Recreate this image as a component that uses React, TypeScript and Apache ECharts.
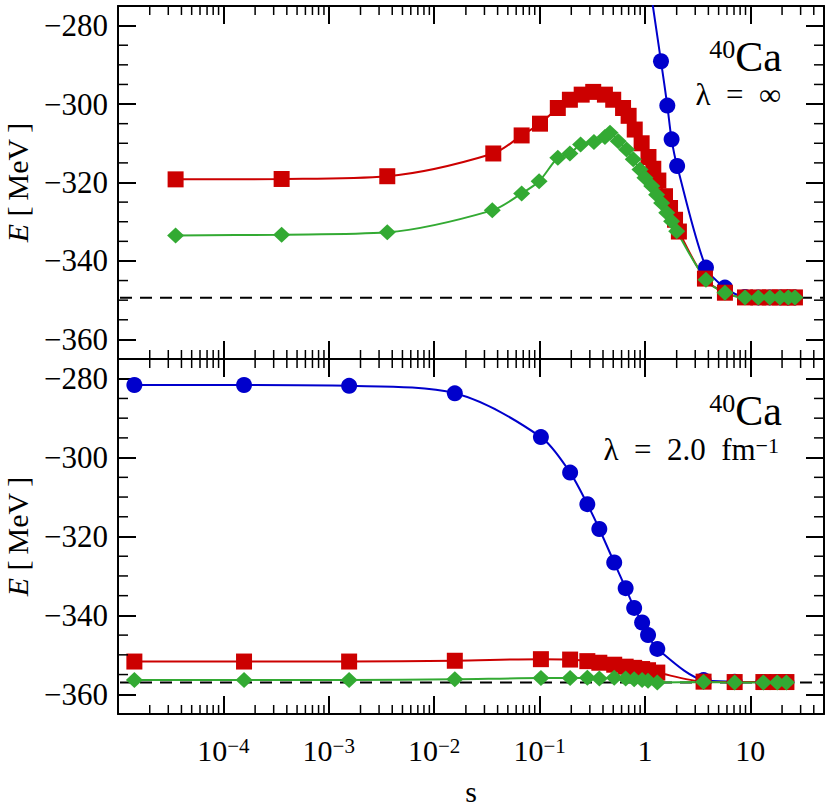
import React, { useEffect, useRef } from "react";
import * as echarts from "echarts";

// ---------- data ----------
const X_MIN = 1e-5;
const X_MAX = 50;
const Y_MIN = -365;
const Y_MAX = -275;

// top panel (lambda = infinity)
const TOP_BLUE_S = [1.18, 1.42, 1.63, 1.79, 2.02, 3.79, 5.74, 8.9, 11.9, 15.3, 19.1, 22.9, 26.5];
const TOP_BLUE_E = [-274.4, -289.1, -300.4, -309.0, -315.8, -341.7, -346.8, -349.2, -349.3, -349.3, -349.3, -349.3, -349.3];

const TOP_RED_S = [3.52e-5, 3.57e-4, 3.59e-3, 0.0364, 0.0676, 0.101, 0.149, 0.194, 0.251, 0.323, 0.417, 0.5, 0.62, 0.7, 0.8, 0.93, 1.08, 1.2, 1.34, 1.55, 1.73, 1.93, 2.1, 3.71, 5.74, 8.9, 11.9, 15.3, 19.1, 22.9, 26.5];
const TOP_RED_E = [-319.2, -319.1, -318.4, -312.6, -308.0, -305.0, -301.0, -298.9, -297.6, -296.9, -297.6, -298.9, -301.0, -303.0, -306.5, -310.0, -313.5, -316.5, -319.5, -323.5, -326.5, -329.5, -332.5, -344.5, -348.1, -349.3, -349.3, -349.3, -349.3, -349.3, -349.3];

const TOP_GREEN_S = [3.52e-5, 3.57e-4, 3.59e-3, 0.0356, 0.0676, 0.099, 0.149, 0.194, 0.245, 0.328, 0.417, 0.466, 0.558, 0.67, 0.774, 0.897, 1.0, 1.16, 1.29, 1.44, 1.61, 1.79, 2.0, 3.79, 5.74, 8.9, 11.9, 15.3, 19.1, 22.9, 26.5];
const TOP_GREEN_E = [-333.5, -333.3, -332.7, -327.1, -322.8, -319.7, -313.7, -312.6, -310.3, -309.7, -308.4, -307.3, -309.5, -311.6, -314.1, -316.7, -318.8, -320.9, -323.1, -325.2, -327.7, -329.9, -332.4, -344.8, -348.1, -349.3, -349.3, -349.3, -349.3, -349.3, -349.3];

const TOP_EXACT = -349.4;

// bottom panel (lambda = 2.0 fm^-1)
const BOT_S = [1.43e-5, 1.57e-4, 1.56e-3, 0.0157, 0.103, 0.195, 0.284, 0.369, 0.511, 0.656, 0.79, 0.94, 1.07, 1.31, 3.6, 7.1, 13.3, 18, 22];
const BOT_BLUE_E = [-281.6, -281.6, -281.8, -283.7, -294.8, -303.8, -311.8, -318.1, -326.6, -333.1, -338.1, -341.8, -345.0, -348.5, -356.4, -356.8, -356.9, -356.9, -356.9];
const BOT_RED_E = [-351.7, -351.7, -351.7, -351.5, -351.1, -351.2, -351.6, -352.0, -352.5, -353.0, -353.3, -353.6, -353.9, -354.5, -356.8, -356.9, -356.9, -356.9, -356.9];
const BOT_GREEN_E = [-356.4, -356.4, -356.4, -356.2, -355.9, -355.9, -355.8, -356.0, -355.8, -356.0, -356.2, -356.4, -356.6, -357.0, -356.9, -357.0, -357.0, -357.0, -357.0];

const BOT_EXACT = -357.0;

// ticks
const X_MINOR: number[] = [];
for (let k = -5; k <= 1; k++) {
  for (let m = 2; m <= 9; m++) {
    const v = m * Math.pow(10, k);
    if (v < X_MAX) X_MINOR.push(v);
  }
}
const Y_MINOR: number[] = [];
for (let v = -360; v < Y_MAX; v += 5) {
  if (v % 20 !== 0) Y_MINOR.push(v);
}

// ---------- style ----------
const FONT = "'Liberation Serif', serif";
const RED = "#cc0000";
const GREEN = "#33aa33";
const BLUE = "#0000cc";

const zip = (s: number[], e: number[]) => s.map((v, i) => [v, e[i]]);

const yLabel = (v: number) => (v < 0 ? "\u2212" + Math.abs(v) : String(v));
const xLabel = (v: number) => {
  const e = Math.log10(v);
  const r = Math.round(e);
  if (Math.abs(e - r) > 1e-6 || r <= -5) return "";
  if (r === 0) return "{b|1}";
  if (r === 1) return "{b|10}";
  return `{b|10}{sup|\u2212${-r}}`;
};

function App() {
  const ref = useRef<HTMLDivElement>(null);
  useEffect(() => {
    if (!ref.current) return;
    const chart = echarts.init(ref.current, undefined, { renderer: "svg" });

    const axisLine = { show: true, onZero: false, lineStyle: { color: "#000", width: 2 } };
    const majorTick = { show: true, inside: true, length: 18, lineStyle: { color: "#000", width: 2 } };

    const xAxis = (gridIndex: number, position: string, labels: boolean) => ({
      type: "log",
      logBase: 10,
      gridIndex,
      position,
      min: X_MIN,
      max: X_MAX,
      axisLine,
      axisTick: majorTick,
      splitLine: { show: false },
      minorTick: { show: false },
      axisLabel: labels
        ? {
            show: true,
            margin: 21,
            formatter: xLabel,
            color: "#000",
            fontFamily: FONT,
            fontSize: 30,
            rich: {
              b: { fontSize: 30, lineHeight: 30, fontFamily: FONT, color: "#000" },
              sup: { fontSize: 21, lineHeight: 12, verticalAlign: "top", fontFamily: FONT, color: "#000" },
            },
          }
        : { show: false },
      name: labels ? "{b|s}" : "",
      nameLocation: "middle",
      nameGap: 62,
      nameTextStyle: {
        fontFamily: FONT,
        fontSize: 30,
        color: "#000",
        rich: { b: { fontFamily: FONT, fontSize: 30, color: "#000" } },
      },
    });

    const yAxis = (gridIndex: number, position: string, labels: boolean) => ({
      type: "value",
      gridIndex,
      position,
      min: Y_MIN,
      max: Y_MAX,
      axisLine,
      axisTick: majorTick,
      splitLine: { show: false },
      minorTick: { show: false },
      axisLabel: labels
        ? {
            show: true,
            margin: 10,
            formatter: (v: number) => `{b|${yLabel(v)}}`,
            color: "#000",
            fontFamily: FONT,
            fontSize: 31,
            showMinLabel: false,
            showMaxLabel: false,
            rich: { b: { fontFamily: FONT, fontSize: 31, color: "#000" } },
          }
        : { show: false },
      name: labels ? "{i|E}{b| [\u2009MeV\u2009]}" : "",
      nameLocation: "middle",
      nameRotate: 90,
      nameGap: 86,
      nameTextStyle: {
        fontFamily: FONT,
        fontSize: 30,
        color: "#000",
        rich: {
          i: { fontStyle: "italic", fontFamily: FONT, fontSize: 30, color: "#000" },
          b: { fontFamily: FONT, fontSize: 30, color: "#000" },
        },
      },
    });

    const xMinorRender = (_p: any, api: any) => {
      const v = api.value(0);
      const b = api.coord([v, Y_MIN]);
      const t = api.coord([v, Y_MAX]);
      return {
        type: "group",
        children: [
          { type: "line", shape: { x1: b[0], y1: b[1], x2: b[0], y2: b[1] - 9 }, style: { stroke: "#000", lineWidth: 1.5 } },
          { type: "line", shape: { x1: t[0], y1: t[1], x2: t[0], y2: t[1] + 9 }, style: { stroke: "#000", lineWidth: 1.5 } },
        ],
      };
    };
    const yMinorRender = (_p: any, api: any) => {
      const v = api.value(1);
      const l = api.coord([X_MIN, v]);
      const r = api.coord([X_MAX, v]);
      return {
        type: "group",
        children: [
          { type: "line", shape: { x1: l[0], y1: l[1], x2: l[0] + 10, y2: l[1] }, style: { stroke: "#000", lineWidth: 1.5 } },
          { type: "line", shape: { x1: r[0], y1: r[1], x2: r[0] - 10, y2: r[1] }, style: { stroke: "#000", lineWidth: 1.5 } },
        ],
      };
    };

    const ticksFor = (xi: number, yi: number) => [
      {
        type: "custom",
        xAxisIndex: xi,
        yAxisIndex: yi,
        renderItem: xMinorRender,
        data: X_MINOR.map((v) => [v, -320]),
        silent: true,
        z: 5,
      },
      {
        type: "custom",
        xAxisIndex: xi,
        yAxisIndex: yi,
        renderItem: yMinorRender,
        data: Y_MINOR.map((v) => [1, v]),
        silent: true,
        z: 5,
      },
    ];

    const dashed = (xi: number, yi: number, val: number) => ({
      type: "line",
      xAxisIndex: xi,
      yAxisIndex: yi,
      data: [
        [X_MIN, val],
        [X_MAX, val],
      ],
      showSymbol: false,
      symbol: "none",
      lineStyle: { color: "#000", width: 2, type: [12, 8], dashOffset: -2 },
      silent: true,
      z: 1,
    });

    const lineSeries = (xi: number, yi: number, data: number[][], color: string, symbol: string, size: any) => ({
      type: "line",
      xAxisIndex: xi,
      yAxisIndex: yi,
      data,
      smooth: 0.3,
      symbol,
      symbolSize: size,
      showAllSymbol: true,
      itemStyle: { color },
      lineStyle: { color, width: 2 },
      clip: true,
      z: 2,
    });

    const caRich = {
      s: { fontSize: 26, lineHeight: 14, verticalAlign: "top", fontFamily: FONT, fill: "#000" },
      b: { fontSize: 42, lineHeight: 42, fontFamily: FONT, fill: "#000" },
    };

    const option: any = {
      animation: false,
      backgroundColor: "#fff",
      textStyle: { fontFamily: FONT },
      grid: [
        { left: 118, right: 6, top: 6, height: 353, containLabel: false, outerBoundsMode: "none" },
        { left: 118, right: 6, top: 359, height: 355, containLabel: false, outerBoundsMode: "none" },
      ],
      xAxis: [xAxis(0, "bottom", false), xAxis(0, "top", false), xAxis(1, "bottom", true), xAxis(1, "top", false)],
      yAxis: [yAxis(0, "left", true), yAxis(0, "right", false), yAxis(1, "left", true), yAxis(1, "right", false)],
      series: [
        ...ticksFor(0, 0),
        ...ticksFor(2, 2),
        dashed(0, 0, TOP_EXACT),
        dashed(2, 2, BOT_EXACT),
        lineSeries(0, 0, zip(TOP_BLUE_S, TOP_BLUE_E), BLUE, "circle", 16),
        lineSeries(0, 0, zip(TOP_RED_S, TOP_RED_E), RED, "rect", 16),
        lineSeries(0, 0, zip(TOP_GREEN_S, TOP_GREEN_E), GREEN, "diamond", [17, 16]),
        lineSeries(2, 2, zip(BOT_S, BOT_BLUE_E), BLUE, "circle", 16),
        lineSeries(2, 2, zip(BOT_S, BOT_RED_E), RED, "rect", 16),
        lineSeries(2, 2, zip(BOT_S, BOT_GREEN_E), GREEN, "diamond", [17, 16]),
      ],
      graphic: [
        {
          type: "text",
          x: 782,
          y: 57,
          style: {
            text: "{s|40}{b|Ca}",
            align: "right",
            verticalAlign: "middle",
            fill: "#000",
            fontFamily: FONT,
            rich: caRich,
          },
        },
        {
          type: "text",
          x: 781,
          y: 94,
          style: {
            text: "{b|\u03bb\u2002=\u2002\u221e}",
            align: "right",
            verticalAlign: "middle",
            fill: "#000",
            fontFamily: FONT,
            rich: { b: { fontSize: 31, lineHeight: 31, fontFamily: FONT, fill: "#000" } },
          },
        },
        {
          type: "text",
          x: 782,
          y: 411,
          style: {
            text: "{s|40}{b|Ca}",
            align: "right",
            verticalAlign: "middle",
            fill: "#000",
            fontFamily: FONT,
            rich: caRich,
          },
        },
        {
          type: "text",
          x: 779,
          y: 449,
          style: {
            text: "{b|\u03bb\u2002=\u20022.0\u2002fm}{s|\u22121}",
            align: "right",
            verticalAlign: "middle",
            fill: "#000",
            fontFamily: FONT,
            rich: {
              b: { fontSize: 31, lineHeight: 30, fontFamily: FONT, fill: "#000" },
              s: { fontSize: 22, lineHeight: 12, verticalAlign: "top", fontFamily: FONT, fill: "#000" },
            },
          },
        },
      ],
    };

    chart.setOption(option);
    return () => chart.dispose();
  }, []);

  return (
    <div
      ref={ref}
      style={{ position: "absolute", left: 0, top: 0, width: 830, height: 806, background: "#fff" }}
    />
  );
}

export default App;
